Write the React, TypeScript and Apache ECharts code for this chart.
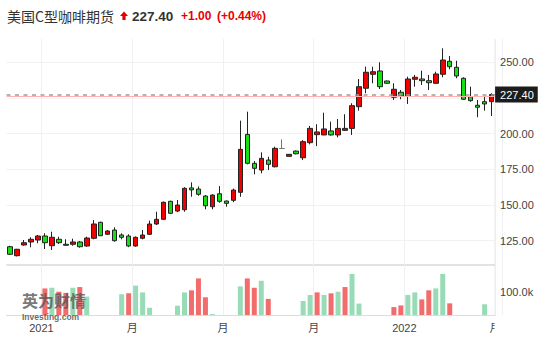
import React, { useEffect, useRef } from 'react';
import * as echarts from 'echarts';

// Weekly candles (week start dates)
const weeks = [
  '2020-11-30', '2020-12-07', '2020-12-14', '2020-12-21', '2020-12-28',
  '2021-01-04', '2021-01-11', '2021-01-18', '2021-01-25', '2021-02-01', '2021-02-08', '2021-02-15', '2021-02-22',
  '2021-03-01', '2021-03-08', '2021-03-15', '2021-03-22', '2021-03-29', '2021-04-05', '2021-04-12', '2021-04-19',
  '2021-04-26', '2021-05-03', '2021-05-10', '2021-05-17', '2021-05-24', '2021-05-31', '2021-06-07', '2021-06-14',
  '2021-06-21', '2021-06-28', '2021-07-05', '2021-07-12', '2021-07-19', '2021-07-26', '2021-08-02', '2021-08-09',
  '2021-08-16', '2021-08-23', '2021-08-30', '2021-09-06', '2021-09-13', '2021-09-20', '2021-09-27', '2021-10-04',
  '2021-10-11', '2021-10-18', '2021-10-25', '2021-11-01', '2021-11-08', '2021-11-15', '2021-11-22', '2021-11-29',
  '2021-12-06', '2021-12-13', '2021-12-20', '2021-12-27', '2022-01-03', '2022-01-10', '2022-01-17', '2022-01-24',
  '2022-01-31', '2022-02-07', '2022-02-14', '2022-02-21', '2022-02-28', '2022-03-07', '2022-03-14', '2022-03-21',
  '2022-03-28',
];
const nextWeek = '2022-04-04';

// [open, close, low, high]
const candles = [
  [120.8, 115.5, 115.0, 121.5], [114.5, 119.0, 114.0, 119.3], [122.0, 123.6, 121.5, 125.5], [124.1, 126.0, 120.4, 127.4],
  [125.5, 128.3, 123.2, 129.0], [128.3, 123.6, 119.2, 130.2], [121.5, 127.4, 118.5, 131.3], [126.0, 123.6, 122.7, 127.8],
  [122.5, 121.8, 121.5, 126.0], [122.5, 124.1, 121.5, 126.4], [124.1, 120.8, 120.1, 124.8], [121.3, 126.9, 120.8, 127.8],
  [126.7, 136.7, 126.0, 139.5], [137.9, 128.5, 128.3, 138.3], [129.5, 131.8, 129.0, 132.5], [132.5, 125.0, 124.3, 134.4],
  [129.0, 127.4, 126.0, 130.2], [128.3, 121.3, 120.5, 129.5], [121.3, 127.4, 120.8, 128.0], [126.7, 129.0, 126.0, 132.5],
  [129.5, 136.7, 129.0, 139.0], [136.7, 140.0, 136.0, 145.3], [140.0, 151.9, 139.5, 152.5], [152.6, 144.2, 143.8, 153.0],
  [145.8, 150.0, 145.0, 153.5], [146.7, 161.7, 145.3, 162.5], [162.0, 160.6, 155.8, 165.9], [161.2, 157.5, 156.5, 163.0],
  [156.3, 149.5, 147.0, 157.0], [148.8, 157.0, 147.0, 157.5], [157.9, 152.6, 151.6, 163.3], [152.8, 151.2, 148.8, 153.2],
  [153.3, 160.5, 152.0, 161.5], [158.9, 189.0, 155.8, 209.1], [199.5, 179.2, 178.5, 215.4], [179.2, 175.7, 171.5, 180.8],
  [174.5, 182.7, 172.2, 186.9], [181.5, 178.5, 174.5, 183.8], [176.8, 189.7, 176.4, 190.9], [189.6, 189.6, 189.4, 196.0],
  [184.1, 185.5, 184.0, 185.7], [187.8, 185.9, 185.5, 188.2], [183.1, 194.4, 181.5, 195.5], [193.7, 203.7, 192.5, 205.4],
  [199.3, 201.2, 191.3, 206.6], [199.1, 203.3, 199.0, 214.7], [201.9, 199.1, 198.6, 208.4], [199.1, 203.7, 197.4, 210.3],
  [202.3, 203.7, 201.9, 213.6], [203.7, 219.6, 199.1, 221.3], [218.9, 232.9, 216.1, 238.3], [231.8, 243.0, 228.3, 246.9],
  [241.6, 243.4, 235.3, 246.9], [243.9, 232.9, 231.3, 250.0], [236.9, 235.3, 235.0, 237.2], [225.5, 231.1, 223.6, 235.3],
  [229.0, 226.4, 224.1, 230.6], [226.4, 238.3, 220.8, 239.9], [238.1, 239.5, 232.9, 241.1], [238.3, 237.1, 234.1, 244.1],
  [237.1, 235.7, 230.6, 241.1], [235.3, 241.8, 234.8, 243.4], [241.6, 251.6, 239.5, 259.8], [250.7, 246.9, 245.1, 254.4],
  [246.5, 240.4, 238.8, 251.1], [238.8, 224.1, 223.6, 239.5], [225.9, 223.1, 222.4, 232.9], [219.9, 218.5, 211.5, 223.6],
  [222.4, 220.8, 216.1, 226.4], [222.4, 227.4, 212.4, 228.3],
];

// Volume per week (null = no data), and its colour direction (u = red, d = green)
const volumes = [
  null, null, null, null, null, 114000, 117000, 100000, 95000, 117000, 120000, 79000,
  null, null, null, null, 89000, 93000, 126000, 97000, 31000, null, null, null,
  40000, 97000, 106000, 157000, 76000, 4000, null, null, null, 123000, 157000, 117000,
  147000, 69000, null, null, null, null, 60000, 86000, 97000, 86000, 93000, 100000,
  120000, 176000, 49000, null, null, null, null, 34000, 41000, 86000, 97000, 67000,
  106000, 114000, 176000, 50000, null, null, null, null, 46000, null,
];
const volumeDir = [
  '', '', '', '', '', 'u', 'd', 'u', 'u', 'd', 'u', 'd',
  '', '', '', '', 'd', 'u', 'd', 'd', 'd', '', '', '',
  'd', 'd', 'u', 'u', 'u', 'd', '', '', '', 'd', 'u', 'u',
  'd', 'u', '', '', '', '', 'd', 'd', 'u', 'd', 'u', 'd',
  'u', 'd', 'd', '', '', '', '', 'u', 'u', 'd', 'd', 'u',
  'u', 'd', 'd', 'u', '', '', '', '', 'd', '',
];

// X tick labels: boundary index -> text
const tickIndex = [5, 18, 31, 44, 57, 70];
const tickText = ['2021', '月', '月', '月', '2022', '月'];
const priceLabels = [125, 150, 175, 200, 250];

const titleName = '美国C型咖啡期货';
const lastPrice = 227.4;
const change = 1.0;
const changePct = 0.44;
const prevClose = 226.4;

const RED = '#f20000';
const GREEN = '#14e014';
const VOL_RED = '#f36c6c';
const VOL_GREEN = '#97dcb6';
const LABEL_FONT = 'Arial, "Noto Sans CJK SC", sans-serif';

export default function App() {
  const ref = useRef<HTMLDivElement>(null);
  useEffect(() => {
    if (!ref.current) return;
    const chart = echarts.init(ref.current, null, { renderer: 'svg' });
    const gridLeft = 6.5;
    const gridRight = 58.9;
    const slot = (554 - gridLeft - gridRight) / weeks.length;
    const option: any = {
      animation: false,
      grid: [
        { left: gridLeft, right: gridRight, top: 26.6, height: 249.8 },
        { left: gridLeft, right: gridRight, top: 265, height: 50 },
        { left: gridLeft, right: gridRight - slot, top: 39, height: 276 },
      ],
      xAxis: [
        { type: 'category', gridIndex: 0, data: weeks, show: false },
        {
          type: 'category', gridIndex: 1, data: weeks,
          axisLine: { show: true, lineStyle: { color: '#dcdcdc' } },
          axisTick: { show: false }, axisLabel: { show: false }, splitLine: { show: false },
        },
        {
          type: 'category', gridIndex: 2, data: [...weeks, nextWeek],
          axisLine: { show: false }, axisTick: { show: false },
          axisLabel: {
            interval: (i: number) => tickIndex.includes(i),
            formatter: (_v: string, i: number) => {
              const k = tickIndex.indexOf(i);
              return k >= 0 ? tickText[k] : '';
            },
            margin: 7, fontSize: 11, color: '#444', fontFamily: LABEL_FONT,
            padding: [0, slot, 0, 0],
          },
          splitLine: {
            show: true,
            interval: (i: number) => tickIndex.includes(i) && i < weeks.length,
            lineStyle: { color: '#f0f0f4', width: 1 },
          },
        },
      ],
      yAxis: [
        {
          type: 'value', gridIndex: 0, position: 'right', min: 100, max: 275, interval: 25,
          axisLine: { show: false }, axisTick: { show: false },
          axisLabel: {
            margin: 5, fontSize: 11, color: '#444', fontFamily: LABEL_FONT,
            formatter: (v: number) => (priceLabels.includes(v) ? v.toFixed(2) : ''),
          },
          splitLine: {
            show: true,
            lineStyle: { color: ['rgba(0,0,0,0)', '#f2f2f4', '#f2f2f4', '#f2f2f4', '#f2f2f4', '#f2f2f4', '#f2f2f4', 'rgba(0,0,0,0)'] },
          },
        },
        {
          type: 'value', gridIndex: 1, position: 'right', min: 0, max: 214600, interval: 100000,
          axisLine: { show: false }, axisTick: { show: false }, splitLine: { show: false },
          axisLabel: {
            margin: 5, fontSize: 11, color: '#444', fontFamily: LABEL_FONT,
            formatter: (v: number) => (v === 100000 ? '100.0k' : ''),
          },
        },
        { type: 'value', gridIndex: 2, min: 0, max: 1, show: false },
      ],
      series: [
        {
          type: 'candlestick', xAxisIndex: 0, yAxisIndex: 0, data: candles, barWidth: 5,
          itemStyle: {
            color: RED, color0: GREEN, borderColor: '#222', borderColor0: '#222',
            borderColorDoji: '#777', borderWidth: 1,
          },
          markLine: {
            symbol: 'none', silent: true, animation: false,
            data: [
              {
                yAxis: prevClose,
                lineStyle: { color: '#ffb0b0', type: 'solid', width: 1 },
                label: { show: false },
              },
              {
                yAxis: lastPrice,
                lineStyle: { color: '#9c9c9c', type: [4, 4.5], width: 1.6 },
                label: {
                  show: true, position: 'end', distance: 0,
                  formatter: lastPrice.toFixed(2),
                  backgroundColor: '#1c1c1c', color: '#fff', fontSize: 11,
                  fontFamily: LABEL_FONT, padding: [3, 4, 2, 5],
                },
              },
            ],
          },
        },
        {
          type: 'bar', xAxisIndex: 1, yAxisIndex: 1, barWidth: 5,
          data: volumes.map((v, i) => ({
            value: v,
            itemStyle: { color: volumeDir[i] === 'u' ? VOL_RED : VOL_GREEN },
          })),
        },
      ],
      graphic: [
        {
          type: 'text', x: 7, y: 16,
          style: { text: titleName, fill: '#333', font: '14px "Noto Sans CJK SC", sans-serif', verticalAlign: 'middle' },
        },
        {
          type: 'polygon',
          shape: { points: [[124, 11.5], [128, 16], [125.6, 16], [125.6, 20], [122.4, 20], [122.4, 16], [120, 16]] },
          style: { fill: '#e80000' },
        },
        {
          type: 'text', x: 132, y: 16,
          style: { text: lastPrice.toFixed(2), fill: '#333', font: 'bold 13.5px Arial, sans-serif', verticalAlign: 'middle' },
        },
        {
          type: 'text', x: 181, y: 16,
          style: { text: '+' + change.toFixed(2), fill: '#e80000', font: 'bold 12px Arial, sans-serif', verticalAlign: 'middle' },
        },
        {
          type: 'text', x: 217, y: 16,
          style: { text: '(+' + changePct.toFixed(2) + '%)', fill: '#e80000', font: 'bold 12px Arial, sans-serif', verticalAlign: 'middle' },
        },
        {
          type: 'line', shape: { x1: gridLeft, y1: 265, x2: 554 - gridRight, y2: 265 },
          style: { stroke: '#d8d8d8', lineWidth: 1.5 },
        },
        {
          type: 'line', shape: { x1: 554 - gridRight, y1: 39, x2: 554 - gridRight, y2: 315 },
          style: { stroke: '#e4e4ea', lineWidth: 1 },
        },
        {
          type: 'rect', z: 100, shape: { x: 494.5, y: 318, width: 30, height: 22 },
          style: { fill: '#fff' },
        },
        {
          type: 'text', x: 22, y: 300, z: 50,
          style: { text: '英为财情', fill: 'rgba(85,85,85,0.8)', font: 'bold 16px "Noto Sans CJK SC", sans-serif', verticalAlign: 'middle' },
        },
        {
          type: 'text', x: 22, y: 316.5, z: 50,
          style: { text: 'Investing.com', fill: 'rgba(70,70,70,0.8)', font: 'bold 8.5px Arial, sans-serif', verticalAlign: 'middle' },
        },
      ],
    };
    chart.setOption(option);
    return () => chart.dispose();
  }, []);
  return <div ref={ref} style={{ position: 'absolute', left: 0, top: 0, width: 554, height: 353 }} />;
}
